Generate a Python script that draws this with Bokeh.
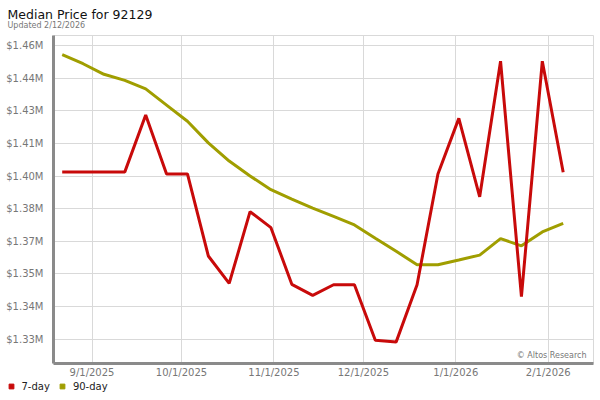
from datetime import datetime
from bokeh.plotting import figure
from bokeh.layouts import column
from bokeh.models import (Range1d, FixedTicker, Label, Legend, LegendItem,
                          ColumnDataSource)
from bokeh.embed import file_html
from bokeh.resources import INLINE

# ---------------- data ----------------
date_strings = ["2025-08-22", "2025-08-29", "2025-09-05", "2025-09-12", "2025-09-19",
                "2025-09-26", "2025-10-03", "2025-10-10", "2025-10-17", "2025-10-24",
                "2025-10-31", "2025-11-07", "2025-11-14", "2025-11-21", "2025-11-28",
                "2025-12-05", "2025-12-12", "2025-12-19", "2025-12-26", "2026-01-02",
                "2026-01-09", "2026-01-16", "2026-01-23", "2026-01-30", "2026-02-06"]

median_7day = [1399900, 1399900, 1399900, 1399900, 1425200, 1399000, 1399000, 1362500,
               1350300, 1382200, 1375100, 1349900, 1345000, 1349700, 1349700, 1325000,
               1324300, 1349700, 1399000, 1423700, 1388800, 1449100, 1344400, 1449100,
               1399700]

median_90day = [1452000, 1448000, 1443300, 1440600, 1436800, 1429600, 1422400, 1412800,
                1404700, 1398100, 1392000, 1387800, 1383800, 1380100, 1376300, 1370400,
                1364600, 1358600, 1358600, 1360700, 1362900, 1370200, 1367000, 1373200,
                1377000]

y_tick_values = [1325500, 1340000, 1354500, 1369000, 1383500, 1398000, 1412500,
                 1427000, 1441500, 1456000]
y_tick_labels = ["$1.33M", "$1.34M", "$1.35M", "$1.37M", "$1.38M", "$1.40M",
                 "$1.41M", "$1.43M", "$1.44M", "$1.46M"]

x_tick_dates = ["2025-09-01", "2025-10-01", "2025-11-01", "2025-12-01",
                "2026-01-01", "2026-02-01"]
x_tick_labels = ["9/1/2025", "10/1/2025", "11/1/2025", "12/1/2025",
                 "1/1/2026", "2/1/2026"]

series_names = ["7-day", "90-day"]
series_colors = ["#c80a0a", "#a09e00"]

title_text = "Median Price for 92129"
subtitle_text = "Updated 2/12/2026"
credit_text = "\u00a9 Altos Research"

# ---------------- helpers ----------------
EPOCH = datetime(1970, 1, 1)


def to_ms(s):
    d = datetime.strptime(s, "%Y-%m-%d")
    return int((d - EPOCH).total_seconds() * 1000)


dates = [datetime.strptime(s, "%Y-%m-%d") for s in date_strings]
x_ticks_ms = [to_ms(s) for s in x_tick_dates]
source = ColumnDataSource(data=dict(date=dates, d7=median_7day, d90=median_90day))

FONT = "DejaVu Sans"
GRID = "#d9d9d9"
AXIS = "#8a8a8a"
LABEL = "#777777"


def strip(height):
    f = figure(width=600, height=height, x_range=Range1d(0, 1), y_range=Range1d(0, 1),
               output_backend="svg", toolbar_location=None, title=None,
               x_axis_location=None, y_axis_location=None,
               min_border_left=0, min_border_right=0, min_border_top=0,
               min_border_bottom=0)
    f.frame_align = False
    f.outline_line_color = None
    f.grid.visible = False
    f.background_fill_color = "white"
    f.border_fill_color = "white"
    return f


# ---------------- title strip ----------------
top = strip(34)
top.add_layout(Label(x=7, y=20.5, x_units="screen", y_units="screen", text=title_text,
                     text_font=FONT, text_font_size="12.5px", text_color="#111111",
                     text_baseline="alphabetic"))
top.add_layout(Label(x=7, y=8.7, x_units="screen", y_units="screen", text=subtitle_text,
                     text_font=FONT, text_font_size="8px", text_color="#777777",
                     text_baseline="alphabetic"))

# ---------------- main chart ----------------
p = figure(width=600, height=346, x_axis_type="datetime",
           x_range=Range1d(datetime(2025, 8, 19, 2), datetime(2026, 2, 16, 4)),
           y_range=Range1d(1314690, 1460550),
           output_backend="svg", toolbar_location=None, title=None,
           min_border_left=53, min_border_right=7, min_border_top=1,
           min_border_bottom=15)
p.frame_align = False

p.background_fill_color = "white"
p.border_fill_color = "white"
p.outline_line_color = GRID
p.outline_line_width = 1

p.xaxis.ticker = FixedTicker(ticks=x_ticks_ms)
p.xaxis.major_label_overrides = {t: l for t, l in zip(x_ticks_ms, x_tick_labels)}
p.yaxis.ticker = FixedTicker(ticks=y_tick_values)
p.yaxis.major_label_overrides = {t: l for t, l in zip(y_tick_values, y_tick_labels)}
p.xgrid.ticker = FixedTicker(ticks=x_ticks_ms)
p.ygrid.ticker = FixedTicker(ticks=y_tick_values)

for ax in (p.xaxis[0], p.yaxis[0]):
    ax.axis_line_color = AXIS
    ax.axis_line_width = 3
    ax.major_tick_line_color = None
    ax.minor_tick_line_color = None
    ax.major_tick_out = 0
    ax.major_tick_in = 0
    ax.minor_tick_out = 0
    ax.major_label_text_font = FONT
    ax.major_label_text_font_size = "10px"
    ax.major_label_text_color = LABEL
p.yaxis.major_label_standoff = 10
p.xaxis.major_label_standoff = 3

for g in (p.xgrid[0], p.ygrid[0]):
    g.grid_line_color = GRID
    g.grid_line_width = 1

p.line(x="date", y="d90", source=source, line_color=series_colors[1], line_width=3)
p.line(x="date", y="d7", source=source, line_color=series_colors[0], line_width=3)

p.add_layout(Label(x=533, y=7.7, x_units="screen", y_units="screen", text=credit_text,
                   text_font=FONT, text_font_size="8px", text_color="#777777",
                   text_align="right", text_baseline="alphabetic"))

# ---------------- legend strip ----------------
lg = strip(20)
legend_items = []
for name, col, field in zip(series_names, series_colors, ["d7", "d90"]):
    # the series' points lie outside this strip's ranges; only the key square shows
    r = lg.scatter(x="date", y=field, source=source,
                   marker="square", fill_color=col, line_color=col)
    legend_items.append(LegendItem(label=name, renderers=[r]))

legend = Legend(items=legend_items, location=(4.5, 8), orientation="horizontal",
                padding=0, margin=0, spacing=6, label_standoff=5,
                glyph_width=12, glyph_height=12,
                label_text_font=FONT, label_text_font_size="10px",
                label_text_color="#222222",
                border_line_color=None, background_fill_alpha=0)
lg.add_layout(legend, "center")

layout = column(top, p, lg, spacing=0)

open("out.html", "w").write(file_html(layout, INLINE))
